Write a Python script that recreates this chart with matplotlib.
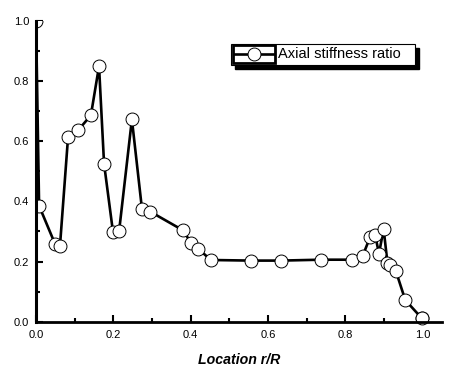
import matplotlib
matplotlib.use("Agg")
import matplotlib.pyplot as plt
from matplotlib.patches import Rectangle
from matplotlib.lines import Line2D
from matplotlib.ticker import MultipleLocator

plt.rcParams['font.family'] = ['Liberation Sans', 'DejaVu Sans']

location = [0.0, 0.008, 0.049, 0.062, 0.083, 0.109, 0.142, 0.163, 0.176,
            0.199, 0.215, 0.248, 0.274, 0.295, 0.381, 0.400, 0.420, 0.452,
            0.556, 0.634, 0.737, 0.817, 0.845, 0.864, 0.877, 0.887, 0.899,
            0.909, 0.916, 0.931, 0.955, 0.998]
stiffness = [1.0, 0.385, 0.259, 0.252, 0.615, 0.636, 0.686, 0.849, 0.525,
             0.299, 0.302, 0.672, 0.375, 0.366, 0.303, 0.263, 0.242, 0.205,
             0.203, 0.203, 0.206, 0.206, 0.219, 0.281, 0.289, 0.226, 0.308,
             0.195, 0.189, 0.167, 0.072, 0.011]
series_name = "Axial stiffness ratio"
xlabel = "Location r/R"

W, H = 453, 369
fig = plt.figure(figsize=(W / 100, H / 100), dpi=100)
ax = fig.add_axes([36 / W, 1 - 321.7 / H, (442 - 36) / W, (321.7 - 20.7) / H])

ax.plot(location, stiffness, color='black', lw=1.9, marker='o', ms=9.3,
        mfc='white', mec='black', mew=0.7, zorder=3)
# keep the last marker fully visible
ax.plot(location[-1:], stiffness[-1:], ls='none', marker='o', ms=9.3,
        mfc='white', mec='black', mew=0.7, zorder=4, clip_on=False)

ax.set_xlim(0, 1.05)
ax.set_ylim(0, 1.0)
ax.spines['top'].set_visible(False)
ax.spines['right'].set_visible(False)
ax.spines['left'].set_linewidth(2.2)
ax.spines['bottom'].set_linewidth(2.0)
ax.spines['left'].set_zorder(5)
ax.spines['bottom'].set_zorder(5)

ax.xaxis.set_major_locator(MultipleLocator(0.2))
ax.xaxis.set_minor_locator(MultipleLocator(0.1))
ax.yaxis.set_major_locator(MultipleLocator(0.2))
ax.yaxis.set_minor_locator(MultipleLocator(0.1))
ax.xaxis.set_major_formatter(matplotlib.ticker.FormatStrFormatter('%.1f'))
ax.yaxis.set_major_formatter(matplotlib.ticker.FormatStrFormatter('%.1f'))
ax.tick_params(which='major', direction='in', length=5, width=1.5,
               labelsize=8, color='black')
ax.tick_params(which='minor', direction='in', length=3, width=1.5)
ax.tick_params(axis='y', which='major', pad=5)
ax.tick_params(axis='x', which='major', pad=6)

ax.set_xlabel(xlabel, fontsize=10.2, fontweight='bold', fontstyle='italic',
              labelpad=9)

# legend drawn in pixel-based figure coordinates
def fx(px):
    return px / W

def fy(py):
    return 1 - py / H

shadow = Rectangle((fx(235), fy(69)), fx(419) - fx(235), fy(48) - fy(69),
                   transform=fig.transFigure, facecolor='black',
                   edgecolor='black', zorder=10)
box = Rectangle((fx(230.5), fy(65)), fx(415) - fx(230.5), fy(43.5) - fy(65),
                transform=fig.transFigure, facecolor='white',
                edgecolor='black', lw=0.8, zorder=11)
hbox = Rectangle((fx(233), fy(63)), fx(275) - fx(233), fy(45) - fy(63),
                 transform=fig.transFigure, facecolor='white',
                 edgecolor='black', lw=2.0, zorder=12)
fig.add_artist(shadow)
fig.add_artist(box)
fig.add_artist(hbox)
fig.add_artist(Line2D([fx(234), fx(274)], [fy(54), fy(54)],
                      transform=fig.transFigure, color='black', lw=1.9,
                      zorder=13))
fig.add_artist(Line2D([fx(254)], [fy(54)], transform=fig.transFigure,
                      ls='none', marker='o', ms=9.3, mfc='white',
                      mec='black', mew=0.7, zorder=14))
fig.text(fx(278), fy(54.5), series_name, fontsize=10.5, va='center',
         ha='left', zorder=15)

fig.savefig('out.png', dpi=100)
